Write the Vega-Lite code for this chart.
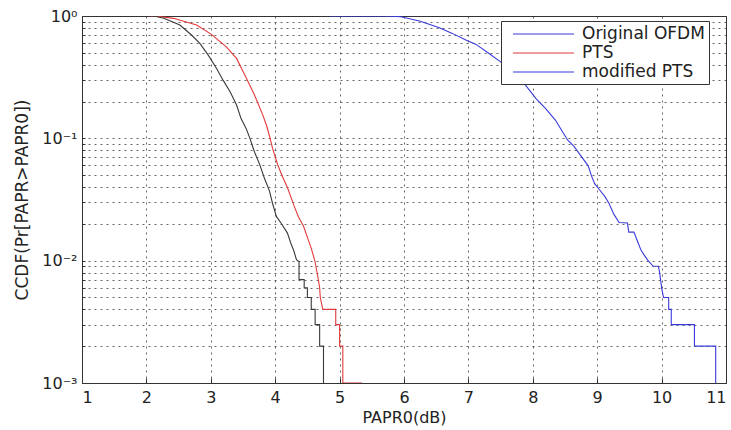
{
  "$schema": "https://vega.github.io/schema/vega-lite/v6.json",
  "width": 644,
  "height": 367,
  "autosize": {"type": "none"},
  "padding": {"left": 82, "top": 16, "right": 5, "bottom": 47},
  "background": "white",
  "config": {
    "view": {"stroke": "#333333", "strokeWidth": 1},
    "font": "DejaVu Sans",
    "axis": {
      "labelFont": "DejaVu Sans",
      "titleFont": "DejaVu Sans",
      "labelFontSize": 16,
      "titleFontSize": 16,
      "titleFontWeight": "normal",
      "labelColor": "#222222",
      "titleColor": "#222222",
      "domain": false,
      "grid": true,
      "gridColor": "#333333",
      "gridDash": [2, 4],
      "gridOpacity": 0.75,
      "gridWidth": 1,
      "tickColor": "#333333"
    }
  },
  "data": {
    "values": [
      {"s": "Original OFDM", "i": 1, "x": 4.85, "p": 1.0},
      {"s": "Original OFDM", "i": 2, "x": 5.72, "p": 1.0},
      {"s": "Original OFDM", "i": 3, "x": 5.95, "p": 0.987},
      {"s": "Original OFDM", "i": 4, "x": 6.24, "p": 0.91},
      {"s": "Original OFDM", "i": 5, "x": 6.55, "p": 0.802},
      {"s": "Original OFDM", "i": 6, "x": 6.75, "p": 0.721},
      {"s": "Original OFDM", "i": 7, "x": 6.96, "p": 0.636},
      {"s": "Original OFDM", "i": 8, "x": 7.12, "p": 0.586},
      {"s": "Original OFDM", "i": 9, "x": 7.32, "p": 0.494},
      {"s": "Original OFDM", "i": 10, "x": 7.5, "p": 0.422},
      {"s": "Original OFDM", "i": 11, "x": 7.7, "p": 0.34},
      {"s": "Original OFDM", "i": 12, "x": 7.89, "p": 0.271},
      {"s": "Original OFDM", "i": 13, "x": 8.05, "p": 0.211},
      {"s": "Original OFDM", "i": 14, "x": 8.2, "p": 0.175},
      {"s": "Original OFDM", "i": 15, "x": 8.35, "p": 0.141},
      {"s": "Original OFDM", "i": 16, "x": 8.48, "p": 0.109},
      {"s": "Original OFDM", "i": 17, "x": 8.54, "p": 0.097},
      {"s": "Original OFDM", "i": 18, "x": 8.64, "p": 0.086},
      {"s": "Original OFDM", "i": 19, "x": 8.75, "p": 0.0715},
      {"s": "Original OFDM", "i": 20, "x": 8.86, "p": 0.0596},
      {"s": "Original OFDM", "i": 21, "x": 8.91, "p": 0.0496},
      {"s": "Original OFDM", "i": 22, "x": 8.96, "p": 0.0426},
      {"s": "Original OFDM", "i": 23, "x": 9.02, "p": 0.0389},
      {"s": "Original OFDM", "i": 24, "x": 9.12, "p": 0.0334},
      {"s": "Original OFDM", "i": 25, "x": 9.18, "p": 0.0296},
      {"s": "Original OFDM", "i": 26, "x": 9.26, "p": 0.0239},
      {"s": "Original OFDM", "i": 27, "x": 9.34, "p": 0.0205},
      {"s": "Original OFDM", "i": 28, "x": 9.47, "p": 0.0203},
      {"s": "Original OFDM", "i": 29, "x": 9.49, "p": 0.0171},
      {"s": "Original OFDM", "i": 30, "x": 9.57, "p": 0.0171},
      {"s": "Original OFDM", "i": 31, "x": 9.63, "p": 0.0142},
      {"s": "Original OFDM", "i": 32, "x": 9.68, "p": 0.0122},
      {"s": "Original OFDM", "i": 33, "x": 9.73, "p": 0.0111},
      {"s": "Original OFDM", "i": 34, "x": 9.79, "p": 0.01},
      {"s": "Original OFDM", "i": 35, "x": 9.87, "p": 0.009},
      {"s": "Original OFDM", "i": 36, "x": 9.95, "p": 0.009},
      {"s": "Original OFDM", "i": 37, "x": 9.97, "p": 0.008},
      {"s": "Original OFDM", "i": 38, "x": 10.0, "p": 0.006},
      {"s": "Original OFDM", "i": 39, "x": 10.03, "p": 0.005},
      {"s": "Original OFDM", "i": 40, "x": 10.11, "p": 0.005},
      {"s": "Original OFDM", "i": 41, "x": 10.11, "p": 0.004},
      {"s": "Original OFDM", "i": 42, "x": 10.15, "p": 0.004},
      {"s": "Original OFDM", "i": 43, "x": 10.15, "p": 0.003},
      {"s": "Original OFDM", "i": 44, "x": 10.51, "p": 0.003},
      {"s": "Original OFDM", "i": 45, "x": 10.51, "p": 0.002},
      {"s": "Original OFDM", "i": 46, "x": 10.84, "p": 0.002},
      {"s": "Original OFDM", "i": 47, "x": 10.84, "p": 0.001},

      {"s": "PTS", "i": 1, "x": 2.05, "p": 1.0},
      {"s": "PTS", "i": 2, "x": 2.2, "p": 0.99},
      {"s": "PTS", "i": 3, "x": 2.42, "p": 0.957},
      {"s": "PTS", "i": 4, "x": 2.78, "p": 0.844},
      {"s": "PTS", "i": 5, "x": 3.01, "p": 0.708},
      {"s": "PTS", "i": 6, "x": 3.24, "p": 0.56},
      {"s": "PTS", "i": 7, "x": 3.4, "p": 0.45},
      {"s": "PTS", "i": 8, "x": 3.53, "p": 0.328},
      {"s": "PTS", "i": 9, "x": 3.68, "p": 0.225},
      {"s": "PTS", "i": 10, "x": 3.81, "p": 0.154},
      {"s": "PTS", "i": 11, "x": 3.87, "p": 0.125},
      {"s": "PTS", "i": 12, "x": 3.91, "p": 0.105},
      {"s": "PTS", "i": 13, "x": 3.96, "p": 0.0823},
      {"s": "PTS", "i": 14, "x": 4.04, "p": 0.0606},
      {"s": "PTS", "i": 15, "x": 4.11, "p": 0.049},
      {"s": "PTS", "i": 16, "x": 4.19, "p": 0.0396},
      {"s": "PTS", "i": 17, "x": 4.29, "p": 0.0283},
      {"s": "PTS", "i": 18, "x": 4.36, "p": 0.0229},
      {"s": "PTS", "i": 19, "x": 4.44, "p": 0.0191},
      {"s": "PTS", "i": 20, "x": 4.51, "p": 0.015},
      {"s": "PTS", "i": 21, "x": 4.56, "p": 0.0126},
      {"s": "PTS", "i": 22, "x": 4.615, "p": 0.01},
      {"s": "PTS", "i": 23, "x": 4.65, "p": 0.008},
      {"s": "PTS", "i": 24, "x": 4.67, "p": 0.007},
      {"s": "PTS", "i": 25, "x": 4.69, "p": 0.006},
      {"s": "PTS", "i": 26, "x": 4.7, "p": 0.005},
      {"s": "PTS", "i": 27, "x": 4.74, "p": 0.004},
      {"s": "PTS", "i": 28, "x": 4.94, "p": 0.004},
      {"s": "PTS", "i": 29, "x": 4.94, "p": 0.003},
      {"s": "PTS", "i": 30, "x": 5.0, "p": 0.003},
      {"s": "PTS", "i": 31, "x": 5.0, "p": 0.002},
      {"s": "PTS", "i": 32, "x": 5.05, "p": 0.002},
      {"s": "PTS", "i": 33, "x": 5.05, "p": 0.001},
      {"s": "PTS", "i": 34, "x": 5.35, "p": 0.001},

      {"s": "modified PTS (black)", "i": 1, "x": 2.05, "p": 1.0},
      {"s": "modified PTS (black)", "i": 2, "x": 2.15, "p": 0.99},
      {"s": "modified PTS (black)", "i": 3, "x": 2.27, "p": 0.957},
      {"s": "modified PTS (black)", "i": 4, "x": 2.52, "p": 0.844},
      {"s": "modified PTS (black)", "i": 5, "x": 2.7, "p": 0.699},
      {"s": "modified PTS (black)", "i": 6, "x": 2.83, "p": 0.597},
      {"s": "modified PTS (black)", "i": 7, "x": 2.96, "p": 0.479},
      {"s": "modified PTS (black)", "i": 8, "x": 3.09, "p": 0.372},
      {"s": "modified PTS (black)", "i": 9, "x": 3.19, "p": 0.299},
      {"s": "modified PTS (black)", "i": 10, "x": 3.3, "p": 0.24},
      {"s": "modified PTS (black)", "i": 11, "x": 3.4, "p": 0.187},
      {"s": "modified PTS (black)", "i": 12, "x": 3.47, "p": 0.145},
      {"s": "modified PTS (black)", "i": 13, "x": 3.55, "p": 0.12},
      {"s": "modified PTS (black)", "i": 14, "x": 3.61, "p": 0.099},
      {"s": "modified PTS (black)", "i": 15, "x": 3.68, "p": 0.077},
      {"s": "modified PTS (black)", "i": 16, "x": 3.76, "p": 0.061},
      {"s": "modified PTS (black)", "i": 17, "x": 3.83, "p": 0.0476},
      {"s": "modified PTS (black)", "i": 18, "x": 3.91, "p": 0.0372},
      {"s": "modified PTS (black)", "i": 19, "x": 3.96, "p": 0.0292},
      {"s": "modified PTS (black)", "i": 20, "x": 4.02, "p": 0.0229},
      {"s": "modified PTS (black)", "i": 21, "x": 4.09, "p": 0.0203},
      {"s": "modified PTS (black)", "i": 22, "x": 4.19, "p": 0.0168},
      {"s": "modified PTS (black)", "i": 23, "x": 4.24, "p": 0.014},
      {"s": "modified PTS (black)", "i": 24, "x": 4.29, "p": 0.012},
      {"s": "modified PTS (black)", "i": 25, "x": 4.33, "p": 0.0102},
      {"s": "modified PTS (black)", "i": 26, "x": 4.37, "p": 0.0098},
      {"s": "modified PTS (black)", "i": 27, "x": 4.37, "p": 0.007},
      {"s": "modified PTS (black)", "i": 28, "x": 4.45, "p": 0.007},
      {"s": "modified PTS (black)", "i": 29, "x": 4.45, "p": 0.006},
      {"s": "modified PTS (black)", "i": 30, "x": 4.5, "p": 0.006},
      {"s": "modified PTS (black)", "i": 31, "x": 4.5, "p": 0.005},
      {"s": "modified PTS (black)", "i": 32, "x": 4.56, "p": 0.005},
      {"s": "modified PTS (black)", "i": 33, "x": 4.56, "p": 0.004},
      {"s": "modified PTS (black)", "i": 34, "x": 4.62, "p": 0.004},
      {"s": "modified PTS (black)", "i": 35, "x": 4.62, "p": 0.003},
      {"s": "modified PTS (black)", "i": 36, "x": 4.69, "p": 0.003},
      {"s": "modified PTS (black)", "i": 37, "x": 4.69, "p": 0.002},
      {"s": "modified PTS (black)", "i": 38, "x": 4.75, "p": 0.002},
      {"s": "modified PTS (black)", "i": 39, "x": 4.75, "p": 0.001}
    ]
  },
  "mark": {"type": "line", "strokeWidth": 1.1, "clip": true},
  "encoding": {
    "x": {
      "field": "x",
      "type": "quantitative",
      "scale": {"domain": [1, 11], "nice": false},
      "axis": {
        "values": [1, 2, 3, 4, 5, 6, 7, 8, 9, 10, 11],
        "title": "PAPR0(dB)",
        "tickSize": -5,
        "labelPadding": 11,
        "titlePadding": 4
      }
    },
    "y": {
      "field": "p",
      "type": "quantitative",
      "scale": {"type": "log", "domain": [0.001, 1], "nice": false},
      "axis": {
        "values": [0.001, 0.002, 0.003, 0.004, 0.005, 0.006, 0.007, 0.008, 0.009, 0.01, 0.02, 0.03, 0.04, 0.05, 0.06, 0.07, 0.08, 0.09, 0.1, 0.2, 0.3, 0.4, 0.5, 0.6, 0.7, 0.8, 0.9, 1],
        "labelExpr": "datum.value == 1 ? '10⁰' : datum.value == 0.1 ? '10⁻¹' : datum.value == 0.01 ? '10⁻²' : datum.value == 0.001 ? '10⁻³' : ''",
        "title": "CCDF(Pr[PAPR>PAPR0])",
        "titleFontSize": 17,
        "tickSize": -3,
        "labelPadding": 8,
        "titlePadding": 10
      }
    },
    "color": {
      "field": "s",
      "type": "nominal",
      "scale": {
        "domain": ["Original OFDM", "PTS", "modified PTS", "modified PTS (black)"],
        "range": ["#3b3bdb", "#e23a3a", "#3b3bdb", "#3a3a3a"]
      },
      "legend": {
        "values": ["Original OFDM", "PTS", "modified PTS"],
        "title": null,
        "orient": "none",
        "legendX": 419,
        "legendY": 5,
        "padding": 4,
        "fillColor": "white",
        "strokeColor": "#333333",
        "symbolType": "M-0.125,0H7.5",
        "symbolSize": 256,
        "symbolStrokeWidth": 1.1,
        "labelFont": "DejaVu Sans",
        "labelFontSize": 17,
        "labelColor": "#222222",
        "labelOffset": 59,
        "rowPadding": 2,
        "cornerRadius": 0
      }
    },
    "order": {"field": "i", "type": "quantitative"}
  }
}
